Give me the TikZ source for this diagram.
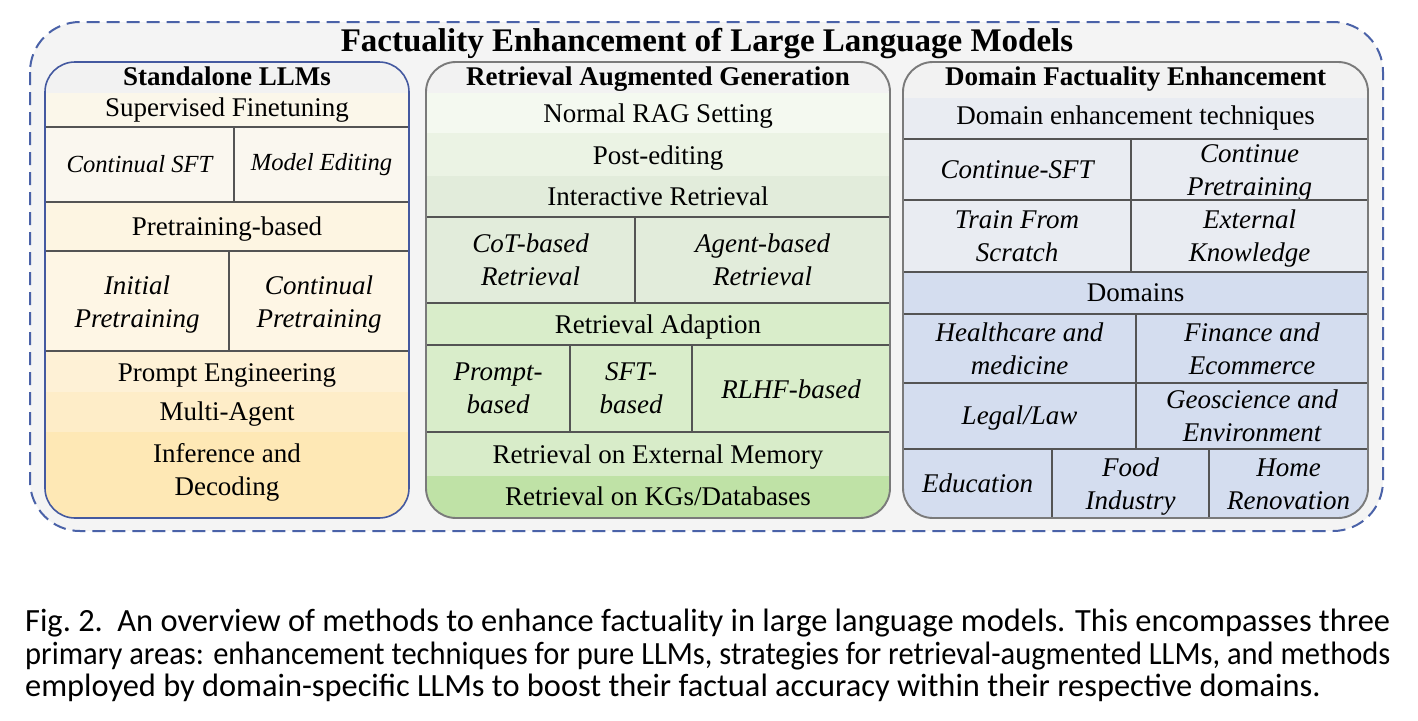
\documentclass[tikz,border=0pt]{standalone}
\usepackage{graphicx}
\usepackage{fontspec}
\setmainfont{Liberation Serif}
\newfontfamily\capfont{Carlito}

% colours
\definecolor{bgray}{HTML}{F4F4F4}
\definecolor{pgray}{HTML}{F2F2F2}
\definecolor{dashblue}{HTML}{4A62A8}
\definecolor{lborder}{HTML}{4459A0}
\definecolor{gborder}{HTML}{7A7A7A}
\definecolor{gridgray}{HTML}{545454}
% standalone column
\definecolor{sA}{HTML}{FBF7EA}
\definecolor{sB}{HTML}{FAF7EF}
\definecolor{sC}{HTML}{FDF5E2}
\definecolor{sD}{HTML}{FEF6E5}
\definecolor{sE}{HTML}{FEF1D6}
\definecolor{sF}{HTML}{FEEDC8}
\definecolor{sG}{HTML}{FEE8B5}
% retrieval column
\definecolor{rA}{HTML}{F4F9F0}
\definecolor{rB}{HTML}{EBF3E4}
\definecolor{rC}{HTML}{E2ECDB}
\definecolor{rD}{HTML}{D9EDCA}
\definecolor{rE}{HTML}{D8ECC9}
\definecolor{rF}{HTML}{BFE2A6}
% domain column
\definecolor{dA}{HTML}{E9ECF2}
\definecolor{dB}{HTML}{D4DDEF}

% one filled cell plus its label:
% [text drop], name, x1, y1, x2, y2, fill colour, font style, text
\newcommand\mkcell[9][0]{%
  \node[cellbg,fill=#7,minimum width={(#5)-(#3)},minimum height={(#6)-(#4)}]
    (#2) at ({((#3)+(#5))/2},{((#4)+(#6))/2}) {};
  \node[celltext,#8,yshift={-(#1)*1pt}] (#2t) at (#2.center) {#9};}

% caption line stretched (or squeezed) to the full measure
\newsavebox\capbox
\newcommand\capfit[1]{\sbox\capbox{#1}%
  \ifdim\wd\capbox>1365pt \resizebox{1365pt}{\height}{\usebox\capbox}%
  \else\makebox[1365pt][s]{#1}\fi}

\begin{document}
\begin{tikzpicture}[x=1pt,y=-1pt,
  cellbg/.style={inner sep=0pt,outer sep=0pt,draw=none},
  celltext/.style={inner sep=0pt,outer sep=0pt,align=center},
  rom/.style={font=\fontsize{27}{33}\selectfont},
  ital/.style={font=\fontsize{27}{33}\selectfont\itshape},
  italsm/.style={font=\fontsize{24.6}{30}\selectfont\itshape},
  hdr/.style={anchor=base,inner sep=0pt,font=\fontsize{27}{33}\selectfont\bfseries},
  gridline/.style={draw=gridgray,line width=1.6pt},
  bluepanel/.style={draw=lborder,line width=1.6pt,rounded corners=30pt},
  graypanel/.style={draw=gborder,line width=1.9pt,rounded corners=30pt},
  capline/.style={anchor=base west,inner sep=0pt,
    font=\capfont\fontsize{32.4}{32}\selectfont}]

\useasboundingbox[fill=white] (0,0) rectangle (1418,720);

% outer dashed frame and title
\path[fill=bgray,draw=dashblue,line width=2pt,dash pattern=on 13pt off 7pt,
  rounded corners=50pt] (30,22) rectangle (1383,531);
\node[anchor=base,inner sep=0pt,font=\fontsize{33}{40}\selectfont\bfseries]
  (title) at (707,51) {Factuality Enhancement of Large Language Models};

% ---------------- Standalone LLMs ----------------
\fill[pgray,rounded corners=30pt] (45,62) rectangle (409,518);
\begin{scope}
\clip[rounded corners=30pt] (45,62) rectangle (409,518);
\mkcell{sup}{45}{93}{409}{127}{sA}{rom}{Supervised Finetuning}
\mkcell{csft}{45}{127}{234}{202}{sB}{italsm}{Continual SFT}
\mkcell{medit}{234}{127}{409}{202}{sB}{italsm}{Model Editing}
\mkcell[3]{pre}{45}{202}{409}{251}{sC}{rom}{Pretraining-based}
\mkcell[4]{ipre}{45}{251}{229}{351}{sD}{ital}{Initial\\Pretraining}
\mkcell[4]{cpre}{229}{251}{409}{351}{sD}{ital}{Continual\\Pretraining}
\mkcell[4]{prompt}{45}{351}{409}{392}{sE}{rom}{Prompt Engineering}
\mkcell[2]{multi}{45}{392}{409}{432}{sF}{rom}{Multi-Agent}
\mkcell[-3]{infer}{45}{432}{409}{518}{sG}{rom}{Inference and\\Decoding}
\draw[gridline] (sup.south west) -- (sup.south east);
\draw[gridline] (pre.north west) -- (pre.north east);
\draw[gridline] (pre.south west) -- (pre.south east);
\draw[gridline] (prompt.north west) -- (prompt.north east);
\draw[gridline] (csft.north east) -- (csft.south east);
\draw[gridline] (ipre.north east) -- (ipre.south east);
\end{scope}
\draw[bluepanel] (45,62) rectangle (409,518);
\node[hdr] (hsa) at (227,85) {Standalone LLMs};

% ---------------- Retrieval Augmented Generation ----------------
\fill[pgray,rounded corners=30pt] (426,62) rectangle (890,518);
\begin{scope}
\clip[rounded corners=30pt] (426,62) rectangle (890,518);
\mkcell[3]{normal}{426}{93}{890}{133}{rA}{rom}{Normal RAG Setting}
\mkcell[4]{post}{426}{133}{890}{176}{rB}{rom}{Post-editing}
\mkcell{inter}{426}{176}{890}{217}{rC}{rom}{Interactive Retrieval}
\mkcell{cot}{426}{217}{635}{303}{rC}{ital}{CoT-based\\Retrieval}
\mkcell{agent}{635}{217}{890}{303}{rC}{ital}{Agent-based\\Retrieval}
\mkcell[3]{adapt}{426}{303}{890}{345}{rD}{rom}{Retrieval Adaption}
\mkcell{pbased}{426}{345}{570}{432}{rD}{ital}{Prompt-\\based}
\mkcell{sbased}{570}{345}{692}{432}{rD}{ital}{SFT-\\based}
\mkcell[1]{rbased}{692}{345}{890}{432}{rD}{ital}{RLHF-based}
\mkcell[3]{extmem}{426}{432}{890}{476}{rE}{rom}{Retrieval on External Memory}
\mkcell[-1]{kgdb}{426}{476}{890}{518}{rF}{rom}{Retrieval on KGs/Databases}
\draw[gridline] (inter.south west) -- (inter.south east);
\draw[gridline] (adapt.north west) -- (adapt.north east);
\draw[gridline] (adapt.south west) -- (adapt.south east);
\draw[gridline] (extmem.north west) -- (extmem.north east);
\draw[gridline] (cot.north east) -- (cot.south east);
\draw[gridline] (pbased.north east) -- (pbased.south east);
\draw[gridline] (sbased.north east) -- (sbased.south east);
\end{scope}
\draw[graypanel] (426,62) rectangle (890,518);
\node[hdr] (hrag) at (658,85) {Retrieval Augmented Generation};

% ---------------- Domain Factuality Enhancement ----------------
\fill[pgray,rounded corners=30pt] (903,62) rectangle (1368,518);
\begin{scope}
\clip[rounded corners=30pt] (903,62) rectangle (1368,518);
\mkcell{tech}{903}{98}{1368}{139}{dA}{rom}{Domain enhancement techniques}
\mkcell{csftd}{903}{139}{1131}{200}{dA}{ital}{Continue-SFT}
\mkcell[3]{cpred}{1131}{139}{1368}{200}{dA}{ital}{Continue\\Pretraining}
\mkcell{scratch}{903}{200}{1131}{272}{dA}{ital}{Train From\\Scratch}
\mkcell[3]{extk}{1131}{200}{1368}{272}{dA}{ital}{External\\Knowledge}
\mkcell{domains}{903}{272}{1368}{314}{dB}{rom}{Domains}
\mkcell{health}{903}{314}{1136}{383}{dB}{ital}{Healthcare and\\medicine}
\mkcell{finance}{1136}{314}{1368}{383}{dB}{ital}{Finance and\\Ecommerce}
\mkcell[2]{legal}{903}{383}{1136}{449}{dB}{ital}{Legal/Law}
\mkcell{geo}{1136}{383}{1368}{449}{dB}{ital}{Geoscience and\\Environment}
\mkcell{edu}{903}{449}{1052}{518}{dB}{ital}{Education}
\mkcell[3]{food}{1052}{449}{1209}{518}{dB}{ital}{Food\\Industry}
\mkcell[1]{home}{1209}{449}{1368}{518}{dB}{ital}{Home\\Renovation}
\draw[gridline] (tech.south west) -- (tech.south east);
\draw[gridline] (csftd.south west) -- (cpred.south east);
\draw[gridline] (domains.north west) -- (domains.north east);
\draw[gridline] (domains.south west) -- (domains.south east);
\draw[gridline] (health.south west) -- (finance.south east);
\draw[gridline] (legal.south west) -- (geo.south east);
\draw[gridline] (csftd.north east) -- (scratch.south east);
\draw[gridline] (health.north east) -- (legal.south east);
\draw[gridline] (edu.north east) -- (edu.south east);
\draw[gridline] (food.north east) -- (food.south east);
\end{scope}
\draw[graypanel] (903,62) rectangle (1368,518);
\node[hdr] (hdom) at (1135.5,85) {Domain Factuality Enhancement};

% ---------------- caption ----------------
\node[capline] (cap1) at (25,631.5) {\capfit{Fig.~2.\hspace{0.45em}An overview of methods to enhance factuality in large language models. This encompasses three}};
\node[capline] (cap2) at (25,664) {\capfit{primary areas: enhancement techniques for pure LLMs, strategies for retrieval-augmented LLMs, and methods}};
\node[capline] (cap3) at (25,696.5) {employed by domain-specific LLMs to boost their factual accuracy within their respective domains.};

\end{tikzpicture}
\end{document}
